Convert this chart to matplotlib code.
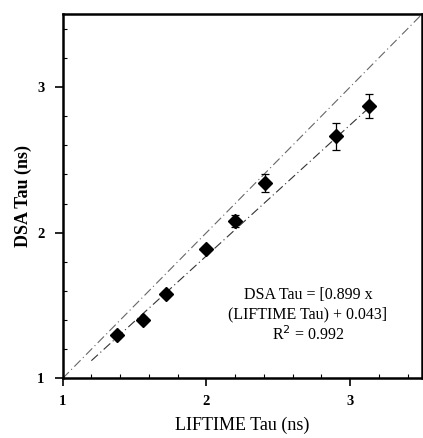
import matplotlib
matplotlib.use("Agg")
import matplotlib.pyplot as plt
import numpy as np
from matplotlib.ticker import MultipleLocator

plt.rcParams['font.family'] = ['Liberation Serif', 'DejaVu Serif']

# Data
lifetime_tau = [1.38, 1.56, 1.72, 2.00, 2.20, 2.41, 2.90, 3.13]
dsa_tau = [1.30, 1.40, 1.58, 1.89, 2.08, 2.34, 2.66, 2.87]
dsa_err = [0.02, 0.02, 0.02, 0.02, 0.04, 0.06, 0.09, 0.08]

fit_slope = 0.899
fit_intercept = 0.043
fit_range = [1.2, 3.15]
identity_range = [1.0, 3.5]
ticks = [1, 2, 3]
tick_labels = ["1", "2", "3"]

fig = plt.figure(figsize=(4.23, 4.38), dpi=100)
ax = fig.add_axes([0.148, 0.136, 0.850, 0.832])

ax.plot(identity_range, identity_range, color='#666666', lw=0.8,
        dashes=[8, 3, 1, 3])
fx = np.array(fit_range)
ax.plot(fx, fit_slope * fx + fit_intercept, color='#333333', lw=0.8,
        dashes=[8, 3, 1, 3])

ax.errorbar(lifetime_tau, dsa_tau, yerr=dsa_err, fmt='D', color='black',
            ms=7.5, ecolor='black', elinewidth=0.9, capsize=3, capthick=0.9)

ax.set_xlim(1, 3.5)
ax.set_ylim(1, 3.5)
ax.set_xticks(ticks)
ax.set_xticklabels(tick_labels, fontweight='bold', fontsize=10.5)
ax.set_yticks(ticks)
ax.set_yticklabels(tick_labels, fontweight='bold', fontsize=10.5)
ax.xaxis.set_minor_locator(MultipleLocator(0.2))
ax.yaxis.set_minor_locator(MultipleLocator(0.2))
ax.tick_params(which='major', direction='out', length=6, width=1.2)
ax.tick_params(axis='x', which='major', pad=6)
ax.tick_params(axis='y', which='major', pad=7)
ax.tick_params(which='minor', direction='in', length=3, width=0.8)

for s in ax.spines.values():
    s.set_linewidth(1.8)

ax.set_xlabel("LIFTIME Tau (ns)", fontsize=13, labelpad=6)
ax.set_ylabel("DSA Tau (ns)", fontsize=13, fontweight='bold', labelpad=4)

ax.text(2.705, 1.43, "DSA Tau = [0.899 x\n(LIFTIME Tau) + 0.043]\nR$^2$ = 0.992",
        ha='center', va='center', fontsize=11.5, linespacing=1.25)

fig.savefig("out.png", dpi=100)
